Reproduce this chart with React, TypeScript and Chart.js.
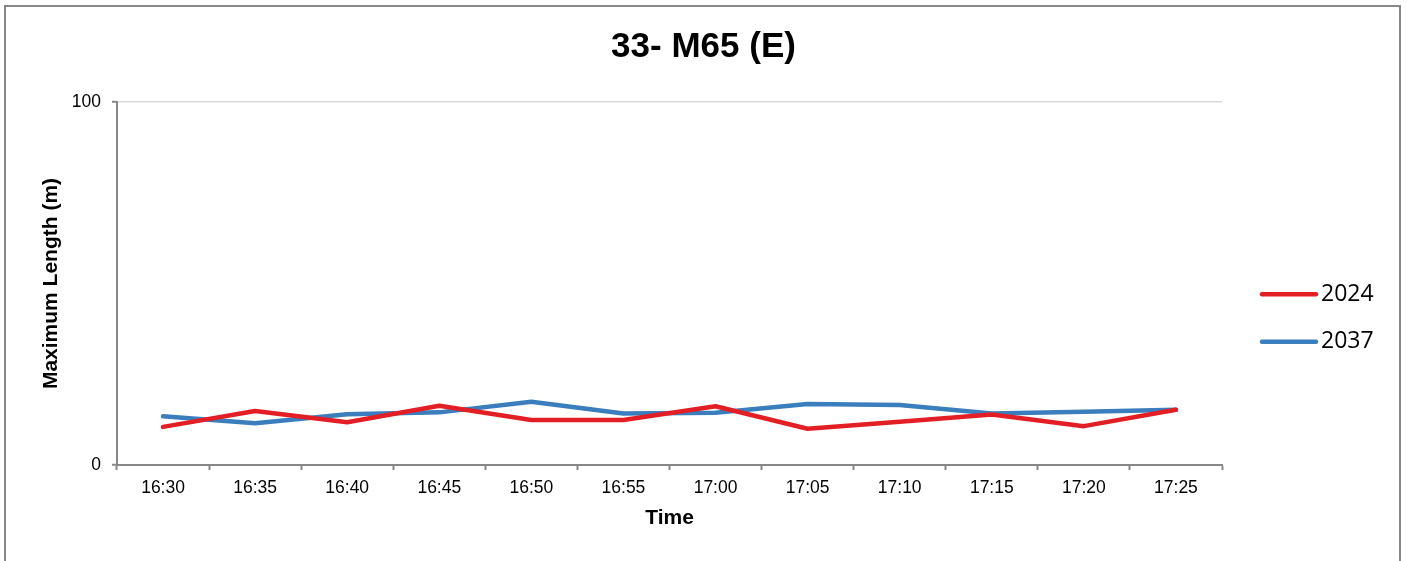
import React, { useEffect, useRef } from "react";
import { Chart, registerables } from "chart.js";

Chart.register(...registerables);

const chartTitle = "33- M65 (E)";
const xAxisTitle = "Time";
const yAxisTitle = "Maximum Length (m)";
const timeLabels = ["16:30", "16:35", "16:40", "16:45", "16:50", "16:55", "17:00", "17:05", "17:10", "17:15", "17:20", "17:25"];
const seriesNames = ["2024", "2037"];
const values2024 = [10.5, 14.9, 11.8, 16.3, 12.4, 12.4, 16.2, 10.0, 11.9, 13.9, 10.7, 15.2];
const values2037 = [13.4, 11.5, 14.0, 14.5, 17.4, 14.2, 14.4, 16.8, 16.5, 14.2, 14.7, 15.2];
const seriesColors = ["#E31E24", "#3A7EBD"];
const yMin = 0;
const yMax = 100;

const AXIS_GRAY = "#878787";
const FONT = "'Liberation Sans', Arial, sans-serif";

const sideLegend = {
  id: "sideLegend",
  afterDraw(chart: any) {
    const { ctx, chartArea } = chart;
    const ds = chart.data.datasets;
    const n = ds.length;
    const x0 = chartArea.right + 40;
    const lineLen = 54;
    const midY = 318;
    const gap = 47.5;
    ctx.save();
    ds.forEach((d: any, i: number) => {
      const cy = midY + (i - (n - 1) / 2) * gap;
      ctx.beginPath();
      ctx.strokeStyle = d.borderColor;
      ctx.lineWidth = 4.5;
      ctx.lineCap = "round";
      ctx.moveTo(x0, cy);
      ctx.lineTo(x0 + lineLen, cy);
      ctx.stroke();
      ctx.fillStyle = "#000";
      ctx.font = "23px 'Open Sans', sans-serif";
      ctx.textAlign = "left";
      ctx.textBaseline = "middle";
      ctx.fillText(d.label, x0 + lineLen + 5, cy);
    });
    ctx.restore();
  },
};

export default function App() {
  const canvasRef = useRef<HTMLCanvasElement | null>(null);

  useEffect(() => {
    if (!canvasRef.current) return;
    const chart = new Chart(canvasRef.current, {
      type: "line",
      data: {
        labels: timeLabels,
        datasets: [
          {
            label: seriesNames[0],
            data: values2024,
            borderColor: seriesColors[0],
            backgroundColor: seriesColors[0],
            borderWidth: 4.5,
            pointRadius: 0,
            tension: 0,
            borderJoinStyle: "round",
            borderCapStyle: "round",
            yAxisID: "y",
          },
          {
            label: seriesNames[1],
            data: values2037,
            borderColor: seriesColors[1],
            backgroundColor: seriesColors[1],
            borderWidth: 4.5,
            pointRadius: 0,
            tension: 0,
            borderJoinStyle: "round",
            borderCapStyle: "round",
            yAxisID: "y",
          },
        ],
      },
      options: {
        responsive: false,
        animation: false,
        layout: { padding: { left: 0, right: 0, top: 0, bottom: 26 } },
        plugins: {
          legend: { display: false },
          tooltip: { enabled: false },
          title: {
            display: true,
            text: chartTitle,
            color: "#000",
            font: { family: FONT, size: 35, weight: "bold" },
            padding: { top: 26, bottom: 34 },
          },
        },
        scales: {
          x: {
            type: "category",
            offset: true,
            afterFit: (s: any) => {
              s.height = 70;
            },
            grid: {
              offset: true,
              drawOnChartArea: false,
              drawTicks: true,
              tickLength: 5,
              tickColor: AXIS_GRAY,
              tickWidth: 2,
            },
            border: { display: true, color: AXIS_GRAY, width: 2 },
            ticks: {
              color: "#000",
              font: { family: FONT, size: 17.5 },
              padding: 8,
              maxRotation: 0,
              autoSkip: false,
            },
            title: {
              display: true,
              text: xAxisTitle,
              color: "#000",
              font: { family: FONT, size: 21, weight: "bold" },
              padding: { top: 0, bottom: 4 },
            },
          },
          y: {
            min: yMin,
            max: yMax,
            position: "left",
            afterFit: (s: any) => {
              s.width = 117;
            },
            grid: {
              color: (c: any) => (c.tick && c.tick.value === yMin ? "rgba(0,0,0,0)" : "#d9d9d9"),
              lineWidth: 1.5,
              drawTicks: true,
              tickLength: 5,
              tickColor: AXIS_GRAY,
              tickWidth: 2,
            },
            border: { display: true, color: AXIS_GRAY, width: 2 },
            ticks: {
              stepSize: 100,
              color: "#000",
              font: { family: FONT, size: 17.5 },
              padding: 11,
            },
            title: {
              display: true,
              text: yAxisTitle,
              color: "#000",
              font: { family: FONT, size: 21, weight: "bold" },
              padding: { top: 39, bottom: 0 },
            },
          },
          legendSpace: {
            type: "linear",
            position: "right",
            min: yMin,
            max: yMax,
            afterFit: (s: any) => {
              s.width = 185;
            },
            grid: { display: false, drawOnChartArea: false, drawTicks: false },
            border: { display: false },
            ticks: { display: false },
            title: { display: false },
          },
        },
      },
      plugins: [sideLegend],
    });
    return () => chart.destroy();
  }, []);

  return (
    <div style={{ position: "fixed", left: 0, top: 0, width: 1407, height: 561, overflow: "hidden", background: "#fff" }}>
      <div
        style={{
          position: "absolute",
          left: 4,
          top: 5,
          width: 1393,
          height: 620,
          border: `2px solid ${AXIS_GRAY}`,
        }}
      />
      <canvas ref={canvasRef} width={1407} height={561} style={{ position: "absolute", left: 0, top: 0 }} />
    </div>
  );
}
